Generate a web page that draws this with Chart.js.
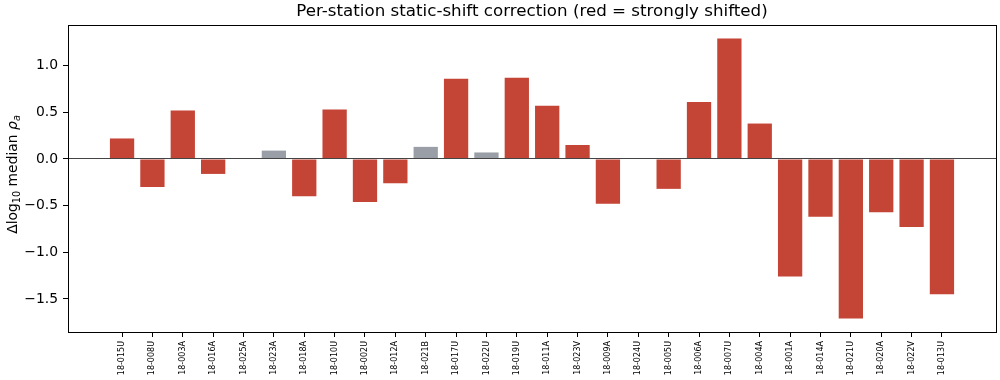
<!DOCTYPE html>
<html>
<head>
<meta charset="utf-8">
<script src="https://cdn.jsdelivr.net/npm/chart.js@4"></script>
<style>
  html, body { margin: 0; padding: 0; background: #fff; }
  #wrap { width: 1000px; height: 380px; }
</style>
</head>
<body>
<div id="wrap"><canvas id="shift-chart"></canvas></div>
<script>
const stations = ['18-015U', '18-008U', '18-003A', '18-016A', '18-025A', '18-023A', '18-018A',
  '18-010U', '18-002U', '18-012A', '18-021B', '18-017U', '18-022U', '18-019U', '18-011A',
  '18-023V', '18-009A', '18-024U', '18-005U', '18-006A', '18-007U', '18-004A', '18-001A',
  '18-014A', '18-021U', '18-020A', '18-022V', '18-013U'];
const shifts = [0.22, -0.30, 0.52, -0.16, 0.0, 0.09, -0.40, 0.53, -0.46, -0.26, 0.13, 0.86,
  0.07, 0.87, 0.57, 0.15, -0.48, 0.0, -0.32, 0.61, 1.29, 0.38, -1.26, -0.62, -1.71, -0.57,
  -0.73, -1.45];
// true = strongly shifted (drawn red)
const strong = [true, true, true, true, true, false, true, true, true, true, false, true,
  false, true, true, true, true, true, true, true, true, true, true, true, true, true, true, true];
const yTicks = [-1.5, -1.0, -0.5, 0.0, 0.5, 1.0];

const RED = '#c44536';
const GREY = '#9a9ea6';
const FONT = '"DejaVu Sans"';

// draws a run of [text, size, italic, subscript] pieces centred on x along the baseline
function drawPieces(ctx, pieces, x, y) {
  let total = 0;
  for (const p of pieces) {
    ctx.font = (p[2] ? 'italic ' : '') + p[1] + 'px ' + FONT;
    total += ctx.measureText(p[0]).width;
  }
  let cx = x - total / 2;
  for (const p of pieces) {
    ctx.font = (p[2] ? 'italic ' : '') + p[1] + 'px ' + FONT;
    ctx.fillText(p[0], cx, y + (p[3] ? 3 : 0));
    cx += ctx.measureText(p[0]).width;
  }
}

const framePlugin = {
  id: 'frame',
  afterDatasetsDraw(chart) {
    const { ctx, chartArea: a, scales } = chart;
    ctx.save();
    // zero line
    const y0 = Math.floor(scales.y.getPixelForValue(0)) + 0.5;
    ctx.strokeStyle = '#444';
    ctx.lineWidth = 1;
    ctx.beginPath();
    ctx.moveTo(a.left, y0);
    ctx.lineTo(a.right, y0);
    ctx.stroke();
    // box around the axes
    ctx.strokeStyle = '#000';
    ctx.strokeRect(Math.round(a.left) + 0.5, Math.round(a.top) + 0.5,
      Math.round(a.right - a.left), Math.round(a.bottom - a.top));
    // title
    ctx.fillStyle = '#000';
    ctx.font = '16.7px ' + FONT;
    ctx.textAlign = 'center';
    ctx.textBaseline = 'middle';
    ctx.fillText('Per-station static-shift correction (red = strongly shifted)', (a.left + a.right) / 2, 12);
    // y label
    ctx.textAlign = 'left';
    ctx.textBaseline = 'alphabetic';
    ctx.translate(17, (a.top + a.bottom) / 2 - 4);
    ctx.rotate(-Math.PI / 2);
    drawPieces(ctx, [
      ['Δlog', 13.9, false, false],
      ['10', 9.7, false, true],
      [' median ', 13.9, false, false],
      ['ρ', 13.9, true, false],
      ['a', 9.7, true, true]
    ], 0, 0);
    ctx.restore();
  }
};

new Chart(document.getElementById('shift-chart').getContext('2d'), {
  type: 'bar',
  data: {
    datasets: [{
      data: shifts.map((v, i) => ({ x: i, y: v })),
      backgroundColor: strong.map(s => s ? RED : GREY),
      barPercentage: 0.8,
      categoryPercentage: 1.0
    }]
  },
  options: {
    responsive: true,
    maintainAspectRatio: false,
    animation: false,
    layout: { padding: { top: 25, right: 4, left: 0, bottom: 0 } },
    plugins: { legend: { display: false }, tooltip: { enabled: false } },
    scales: {
      x: {
        type: 'linear',
        min: -1.78,
        max: 28.78,
        offset: false,
        afterBuildTicks: s => { s.ticks = stations.map((_, i) => ({ value: i })); },
        afterFit: s => { s.height = 48; },
        ticks: {
          autoSkip: false,
          minRotation: 90,
          maxRotation: 90,
          padding: 4,
          color: '#000',
          font: { family: 'DejaVu Sans', size: 8 },
          callback: v => stations[v]
        },
        grid: { offset: false, drawOnChartArea: false, drawTicks: true, tickLength: 5, color: '#000' },
        border: { display: true, color: '#000' }
      },
      y: {
        min: -1.854,
        max: 1.436,
        afterBuildTicks: s => { s.ticks = yTicks.map(v => ({ value: v })); },
        afterFit: s => { s.width = 68; },
        ticks: {
          padding: 5,
          color: '#000',
          font: { family: 'DejaVu Sans', size: 13.9 },
          callback: v => (v < 0 ? '\u2212' : '') + Math.abs(v).toFixed(1)
        },
        grid: { drawOnChartArea: false, drawTicks: true, tickLength: 5, color: '#000' },
        border: { display: true, color: '#000' }
      }
    }
  },
  plugins: [framePlugin]
});
</script>
</body>
</html>
